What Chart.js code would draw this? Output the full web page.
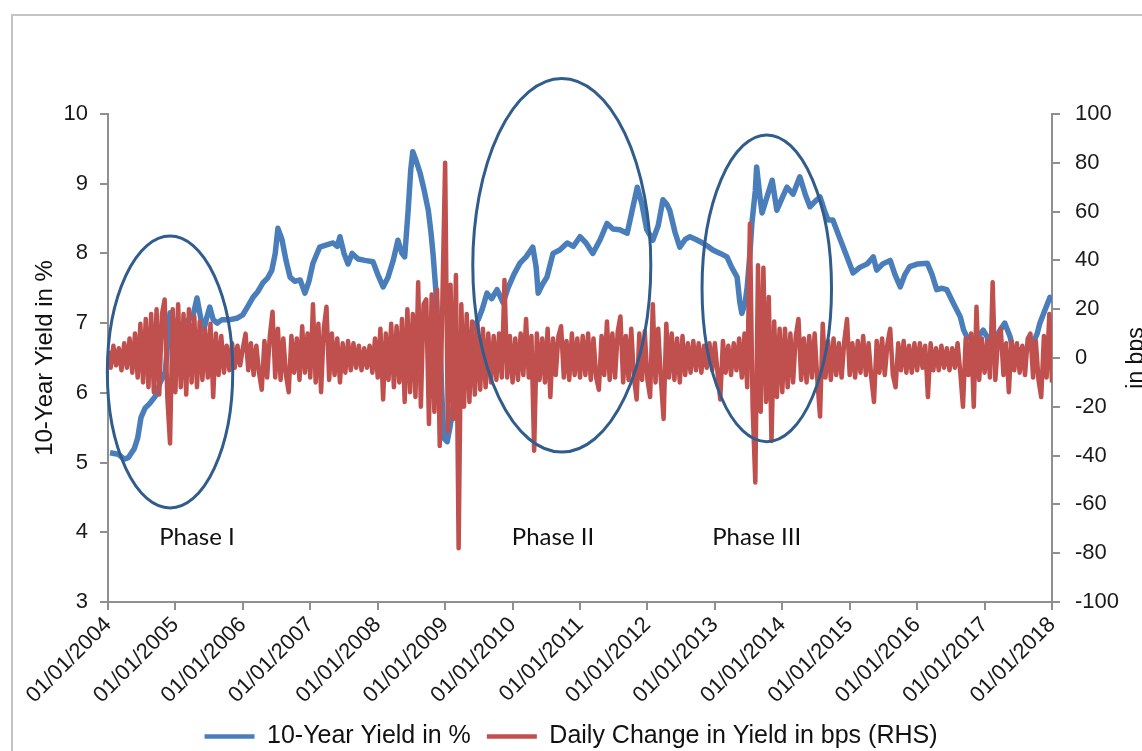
<!DOCTYPE html>
<html>
<head>
<meta charset="utf-8">
<script src="https://cdn.jsdelivr.net/npm/chart.js@4.4.1/dist/chart.umd.min.js"></script>
<style>
  html, body { margin: 0; padding: 0; background: #fff; }
  #wrap { width: 1142px; height: 751px; }
</style>
</head>
<body>
<div id="wrap"><canvas id="yieldChart" width="1142" height="751"></canvas></div>
<script>
// 10-year yield (decimal year, %)
const yieldDates = [
  2004.03, 2004.15, 2004.24, 2004.30, 2004.39, 2004.44, 2004.49, 2004.55, 2004.62, 2004.70,
  2004.77, 2004.85, 2004.92, 2004.99, 2005.10, 2005.19, 2005.26, 2005.32, 2005.38, 2005.42,
  2005.47, 2005.51, 2005.56, 2005.62, 2005.69, 2005.81, 2005.91, 2006.00, 2006.08, 2006.15,
  2006.22, 2006.30, 2006.37, 2006.43, 2006.48, 2006.52, 2006.58, 2006.64, 2006.70, 2006.77,
  2006.85, 2006.92, 2006.98, 2007.04, 2007.10, 2007.14, 2007.23, 2007.34, 2007.40, 2007.44,
  2007.50, 2007.56, 2007.62, 2007.71, 2007.81, 2007.93, 2008.00, 2008.08, 2008.15, 2008.23,
  2008.30, 2008.36, 2008.40, 2008.45, 2008.49, 2008.52, 2008.58, 2008.63, 2008.69, 2008.75,
  2008.79, 2008.82, 2008.86, 2008.89, 2008.92, 2008.95, 2008.98, 2009.03, 2009.07, 2009.15,
  2009.22, 2009.31, 2009.40, 2009.49, 2009.55, 2009.62, 2009.69, 2009.77, 2009.86, 2009.93,
  2010.02, 2010.11, 2010.20, 2010.30, 2010.35, 2010.38, 2010.44, 2010.51, 2010.60, 2010.70,
  2010.81, 2010.90, 2011.00, 2011.09, 2011.19, 2011.30, 2011.40, 2011.49, 2011.59, 2011.70,
  2011.77, 2011.85, 2011.92, 2011.99, 2012.08, 2012.16, 2012.23, 2012.29, 2012.33, 2012.41,
  2012.48, 2012.56, 2012.63, 2012.72, 2012.82, 2012.90, 2012.97, 2013.08, 2013.18, 2013.25,
  2013.33, 2013.37, 2013.40, 2013.45, 2013.48, 2013.52, 2013.55, 2013.60, 2013.62, 2013.67,
  2013.70, 2013.77, 2013.85, 2013.89, 2013.92, 2014.00, 2014.07, 2014.16, 2014.26, 2014.34,
  2014.41, 2014.49, 2014.56, 2014.63, 2014.68, 2014.75, 2014.86, 2014.96, 2015.05, 2015.15,
  2015.26, 2015.35, 2015.40, 2015.49, 2015.60, 2015.67, 2015.75, 2015.82, 2015.89, 2016.01,
  2016.15, 2016.22, 2016.29, 2016.37, 2016.44, 2016.53, 2016.64, 2016.69, 2016.74, 2016.83,
  2016.90, 2016.98, 2017.04, 2017.08, 2017.15, 2017.23, 2017.30, 2017.38, 2017.41, 2017.47,
  2017.53, 2017.63, 2017.72, 2017.78, 2017.82, 2017.90, 2017.97, 2018.00
];
const yieldValues = [
  5.14, 5.12, 5.05, 5.07, 5.20, 5.35, 5.65, 5.78, 5.85, 5.95,
  6.14, 6.30, 7.15, 7.00, 6.90, 7.05, 7.10, 7.36, 7.05, 6.90,
  7.10, 7.23, 7.05, 7.00, 7.05, 7.05, 7.07, 7.12, 7.25, 7.37,
  7.45, 7.58, 7.65, 7.76, 8.00, 8.36, 8.20, 7.90, 7.66, 7.60,
  7.62, 7.43, 7.60, 7.86, 8.00, 8.09, 8.12, 8.15, 8.10, 8.24,
  8.00, 7.85, 8.00, 7.92, 7.90, 7.88, 7.70, 7.52, 7.65, 7.90,
  8.19, 8.00, 7.95, 8.60, 9.20, 9.46, 9.30, 9.15, 8.90, 8.62,
  8.30, 8.00, 7.50, 7.00, 6.80, 6.00, 5.35, 5.30, 5.50, 6.00,
  6.30, 6.60, 6.90, 7.05, 7.20, 7.43, 7.35, 7.48, 7.29, 7.50,
  7.70, 7.86, 7.95, 8.09, 7.80, 7.43, 7.55, 7.66, 8.00, 8.05,
  8.15, 8.10, 8.24, 8.15, 8.00, 8.20, 8.43, 8.35, 8.34, 8.29,
  8.60, 8.95, 8.70, 8.34, 8.19, 8.40, 8.77, 8.70, 8.62, 8.30,
  8.09, 8.20, 8.24, 8.20, 8.15, 8.10, 8.05, 8.00, 7.95, 7.80,
  7.66, 7.30, 7.14, 7.30, 7.52, 8.00, 8.44, 8.90, 9.24, 8.80,
  8.58, 8.80, 9.05, 8.80, 8.62, 8.80, 8.95, 8.85, 9.10, 8.85,
  8.67, 8.75, 8.81, 8.60, 8.48, 8.48, 8.20, 7.95, 7.72, 7.80,
  7.85, 7.95, 7.76, 7.85, 7.90, 7.70, 7.52, 7.70, 7.81, 7.85,
  7.86, 7.70, 7.48, 7.50, 7.48, 7.30, 7.09, 6.90, 6.80, 6.76,
  6.80, 6.90, 6.80, 6.66, 6.75, 6.90, 7.00, 6.80, 6.66, 6.60,
  6.62, 6.62, 6.72, 6.85, 7.00, 7.20, 7.37, 7.30
];

// daily change in bps, one reading every 0.04 year from 01/01/2004
const changeStart = 2004;
const changeStep = 0.04;
const changeValues = [
  // 2004
  3, -4, 5, -3, 4, -5, 6, -4, 8, -6, 10, -8, 14, -10, 16, -12, 18, -14, 20, -15, 18, 24, -16, -35, 20,
  // 2005
  -14, 22, -12, 18, -15, 20, -10, 17, -12, 15, -9, 12, -8, 14, -16, 10, -7, 9, -6, 5, -5, 6, -4, 5, -3,
  // 2006
  4, 10, -5, 6, -7, 5, -6, -13, 7, -8, 9, 19, -8, 12, -9, 8, -7, -14, 9, -6, 8, -9, 13, -6, 10,
  // 2007
  -8, 22, -10, 14, -14, 12, 21, -9, 10, -7, 8, -10, 6, -6, 7, -5, 6, -4, 5, -5, 4, -4, 5, -6, 8,
  // 2008
  -8, 12, -17, 10, -9, 14, -12, 13, -10, 16, -18, 20, -14, 18, -16, 31, -20, 22, 24, -27, 26, -22, 28, -36, 25,
  // 2009
  80, -30, 30, -25, 34, -78, 22, -20, 18, -18, 15, -15, 14, -13, 12, -12, 10, -10, 9, -9, 10, -8, 32, -8, 9,
  // 2010
  -10, 8, -9, 10, -7, 16, -8, 9, -38, 10, -9, 8, -10, 12, -16, 8, -7, 9, 13, -8, 7, -9, 10, -7, 8,
  // 2011
  -8, 9, -7, 10, -9, 8, -8, -13, 9, -7, 15, -9, 10, -8, 11, 17, -10, 9, -9, 12, -8, -17, 10, -9, 11,
  // 2012
  -9, -16, 22, -10, 12, -9, -25, 14, -8, 10, -9, 8, -10, 9, -7, 6, -6, 7, -5, 6, -6, 5, -4, 6, -5,
  // 2013
  6, -6, -17, 7, -6, 5, -7, 6, -5, 8, -8, 10, -12, 55, -20, -51, 38, -22, 37, -18, 25, -34, 15, -16, 12,
  // 2014
  -14, 12, -12, 10, -10, 9, 16, -9, 8, -10, 9, -8, 10, -9, -24, 14, -8, 7, -9, 8, -7, 6, -8, 7, 16,
  // 2015
  -7, 6, -8, 7, -6, 9, -7, 6, -8, -18, 7, -6, 8, -7, 6, 12, -7, -12, 6, -5, 7, -6, 5, -6, 6,
  // 2016
  -5, 6, -4, 5, -16, 6, -5, 4, -5, 5, -4, 4, -5, 4, -4, 6, -6, -20, 8, -7, 10, -20, 21, -9, 8,
  // 2017
  -6, 7, -8, 31, -9, 8, 12, -7, 6, -14, 7, -5, 6, -6, 5, -7, 8, 10, -8, 7, -9, -16, 9, -8, 18, -10
];

const yearTicks = [2004, 2005, 2006, 2007, 2008, 2009, 2010, 2011, 2012, 2013, 2014, 2015, 2016, 2017, 2018];

// circled phases: centre and half-extent in axis units (year, yield %)
const phases = [
  { label: "Phase I", year: 2004.92, value: 6.30, halfYears: 0.93, halfSpan: 1.95, textYear: 2005.32 },
  { label: "Phase II", year: 2010.73, value: 7.83, halfYears: 1.32, halfSpan: 2.68, textYear: 2010.60 },
  { label: "Phase III", year: 2013.77, value: 7.50, halfYears: 0.96, halfSpan: 2.20, textYear: 2013.62 },
];
const phaseTextValue = 3.93;

const tickFont = { family: "'Liberation Sans', Arial, sans-serif", size: 22 };
const axisGrey = "#8f8f8f";
const bottomPad = -8;

// light frame around the figure
const frame = {
  id: "frame",
  beforeDraw(chart) {
    const { ctx } = chart;
    ctx.save();
    ctx.fillStyle = "#fff";
    ctx.fillRect(0, 0, chart.width, chart.height);
    ctx.strokeStyle = "#c4c4c4";
    ctx.lineWidth = 2;
    ctx.beginPath();
    ctx.moveTo(12, chart.height);
    ctx.lineTo(12, 15);
    ctx.lineTo(chart.width, 15);
    ctx.stroke();
    ctx.restore();
  },
};

// ellipses + phase labels
const phaseMarks = {
  id: "phaseMarks",
  afterDatasetsDraw(chart) {
    const { ctx } = chart;
    const xs = chart.scales.x;
    const ys = chart.scales.y;
    ctx.save();
    ctx.strokeStyle = "#305d8c";
    ctx.lineWidth = 3;
    phases.forEach((p) => {
      const cx = xs.getPixelForValue(p.year);
      const cy = ys.getPixelForValue(p.value);
      const rx = xs.getPixelForValue(p.year + p.halfYears) - cx;
      const ry = cy - ys.getPixelForValue(p.value + p.halfSpan);
      ctx.beginPath();
      ctx.ellipse(cx, cy, rx, ry, 0, 0, Math.PI * 2);
      ctx.stroke();
    });
    ctx.fillStyle = "#111";
    ctx.font = "24px Lato, 'Open Sans', sans-serif";
    ctx.textAlign = "center";
    ctx.textBaseline = "middle";
    phases.forEach((p) => {
      ctx.fillText(p.label, xs.getPixelForValue(p.textYear), ys.getPixelForValue(phaseTextValue));
    });
    ctx.restore();
  },
};

// right axis title, cut by the edge of the picture
const rightTitle = {
  id: "rightTitle",
  afterDraw(chart) {
    const { ctx } = chart;
    const ys = chart.scales.y1;
    ctx.save();
    ctx.translate(1143, (ys.top + ys.bottom) / 2);
    ctx.rotate(-Math.PI / 2);
    ctx.fillStyle = "#111";
    ctx.font = "23px 'Liberation Sans', Arial, sans-serif";
    ctx.textAlign = "center";
    ctx.textBaseline = "alphabetic";
    ctx.fillText("in bps", 0, 0);
    ctx.restore();
  },
};

new Chart(document.getElementById("yieldChart"), {
  type: "line",
  data: {
    datasets: [
      {
        label: "10-Year Yield in %",
        data: yieldDates.map((d, i) => ({ x: d, y: yieldValues[i] })),
        borderColor: "#4a7ebb",
        backgroundColor: "#4a7ebb",
        borderWidth: 5.5,
        borderJoinStyle: "round",
        pointRadius: 0,
        yAxisID: "y",
        order: 1,
      },
      {
        label: "Daily Change in Yield in bps (RHS)",
        data: changeValues.map((v, i) => ({ x: changeStart + i * changeStep, y: v })),
        borderColor: "#c0504d",
        backgroundColor: "#c0504d",
        borderWidth: 4.5,
        borderJoinStyle: "round",
        pointRadius: 0,
        yAxisID: "y1",
        order: 0,
      },
    ],
  },
  options: {
    responsive: false,
    animation: false,
    devicePixelRatio: 1,
    layout: { padding: { left: 0, right: 0, top: 114, bottom: bottomPad } },
    plugins: {
      tooltip: { enabled: false },
      legend: {
        position: "bottom",
        labels: {
          font: { family: "'Liberation Sans', Arial, sans-serif", size: 25 },
          color: "#111",
          usePointStyle: true,
          pointStyle: "line",
          pointStyleWidth: 50,
          padding: 16,
          sort: (a, b) => a.datasetIndex - b.datasetIndex,
          generateLabels(chart) {
            const items = Chart.defaults.plugins.legend.labels.generateLabels(chart);
            items.forEach((it) => (it.lineWidth = 4.5));
            return items;
          },
        },
      },
    },
    scales: {
      x: {
        type: "linear",
        min: 2004,
        max: 2018,
        afterBuildTicks: (s) => {
          s.ticks = yearTicks.map((v) => ({ value: v }));
        },
        ticks: {
          autoSkip: false,
          minRotation: 45,
          maxRotation: 45,
          padding: 2,
          font: tickFont,
          color: "#1a1a1a",
          callback: (v) => "01/01/" + v,
        },
        grid: { drawOnChartArea: false, tickLength: 8, color: axisGrey, lineWidth: 2 },
        border: { color: axisGrey, width: 2 },
        afterFit: (s) => {
          const lg = s.chart.legend;
          s.height = 751 - bottomPad - 602 - (lg ? lg.height : 0);
        },
      },
      y: {
        position: "left",
        min: 3,
        max: 10,
        ticks: { stepSize: 1, padding: 12, font: tickFont, color: "#1a1a1a" },
        grid: { drawOnChartArea: false, tickLength: 8, color: axisGrey, lineWidth: 2 },
        border: { color: axisGrey, width: 2 },
        title: {
          display: true,
          text: "10-Year Yield in %",
          font: { family: "'Liberation Sans', Arial, sans-serif", size: 24 },
          color: "#111",
          padding: { top: 31, bottom: 0 },
        },
        afterFit: (s) => {
          s.width = 108;
        },
      },
      y1: {
        position: "right",
        min: -100,
        max: 100,
        ticks: { stepSize: 20, padding: 15, font: tickFont, color: "#1a1a1a" },
        grid: { drawOnChartArea: false, tickLength: 8, color: axisGrey, lineWidth: 2 },
        border: { color: axisGrey, width: 2 },
        afterFit: (s) => {
          s.width = 90;
        },
      },
    },
  },
  plugins: [frame, phaseMarks, rightTitle],
});
</script>
</body>
</html>
